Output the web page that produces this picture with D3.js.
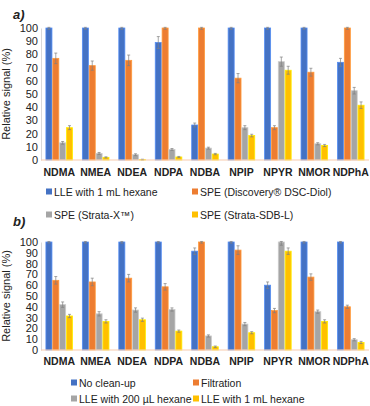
<!DOCTYPE html>
<html>
<head>
<meta charset="utf-8">
<script src="https://cdn.jsdelivr.net/npm/d3@7"></script>
<style>
  body { margin: 0; background: #fff; }
  text { font-family: "Liberation Sans", Arial, sans-serif; fill: #222; }
</style>
</head>
<body>
<div id="chart"></div>
<script>
var categories = ["NDMA", "NMEA", "NDEA", "NDPA", "NDBA", "NPIP", "NPYR", "NMOR", "NDPhA"];
var yTicks = [0, 10, 20, 30, 40, 50, 60, 70, 80, 90, 100];
var colors = ["#4472C4", "#ED7D31", "#A5A5A5", "#FFC000"];

// panel a
var seriesA = ["LLE with 1 mL hexane", "SPE (Discovery\u00AE DSC-Diol)", "SPE (Strata-X\u2122)", "SPE (Strata-SDB-L)"];
var lleA =  [100, 100, 100, 89, 26.5, 100, 100, 100, 74];
var diolA = [77, 71.5, 75.5, 100, 100, 62, 24.5, 66.5, 100];
var stxA =  [13, 5, 4, 8, 9, 24.5, 74.5, 12.3, 52.5];
var sdbA =  [24.5, 2, 0.3, 2.3, 4.5, 18.5, 68, 11, 41.5];
var errA = [
  [1, 1, 1, 4.5, 1.5, 1, 1, 1, 3],
  [4, 3.5, 4, 1, 1, 3.5, 1.5, 3, 1],
  [1, 0.7, 0.7, 0.7, 0.7, 1.5, 3.5, 0.8, 2.5],
  [1.5, 0.4, 0.3, 0.4, 0.5, 1, 3, 0.8, 2.5]
];

// panel b
var seriesB = ["No clean-up", "Filtration", "LLE with 200 \u00B5L hexane", "LLE with 1 mL hexane"];
var noneB = [100, 100, 100, 100, 91.5, 100, 60, 100, 100];
var filtB = [64.5, 63, 66.5, 58.5, 100, 92.5, 36.5, 67.5, 40];
var lle200B = [42, 33.5, 37, 37.5, 13, 24, 100, 35.5, 9.5];
var lle1B = [31.5, 26.5, 28, 17.5, 3, 16, 91.5, 26.5, 7];
var errB = [
  [1, 1, 1, 1, 3, 1, 3, 1, 1],
  [3.5, 3.5, 3.5, 3, 1, 4, 2, 3, 1.5],
  [2.5, 2, 2, 1.5, 1, 1.5, 3, 1.5, 1],
  [1.5, 1.5, 1.5, 1, 0.7, 1, 3, 1.5, 1]
];

var W = 370, H = 406;
var svg = d3.select("#chart").append("svg")
  .attr("width", W).attr("height", H);

var x = d3.scaleBand().domain(categories).range([41, 369])
  .paddingInner(0.27).paddingOuter(0.135);
var xs = d3.scaleBand().domain([0, 1, 2, 3]).range([0, x.bandwidth()]).paddingInner(0.12);

function panel(opt) {
  var y = d3.scaleLinear().domain([0, 100]).range([opt.y0, opt.y100]);
  var g = svg.append("g");

  g.append("text").attr("x", 13).attr("y", opt.titleY)
    .attr("font-size", 13).attr("font-weight", "bold").attr("font-style", "italic")
    .text(opt.title);

  // y axis
  var ya = g.append("g").attr("transform", "translate(41,0)")
    .call(d3.axisLeft(y).tickValues(yTicks).tickSize(0).tickPadding(3));
  ya.select(".domain").attr("stroke", "#d9d9d9");
  ya.selectAll("text").attr("font-size", 11).attr("fill", "#222")
    .attr("font-family", "Liberation Sans, Arial, sans-serif");

  g.append("text")
    .attr("transform", "translate(10," + ((opt.y0 + opt.y100) / 2) + ") rotate(-90)")
    .attr("text-anchor", "middle").attr("font-size", 11)
    .text("Relative signal (%)");

  // bars
  var data = opt.values;
  data.forEach(function(vals, s) {
    g.selectAll(".b" + s).data(categories).enter().append("rect")
      .attr("x", function(c) { return x(c) + xs(s); })
      .attr("y", function(c, i) { return y(vals[i]); })
      .attr("width", xs.bandwidth())
      .attr("height", function(c, i) { return opt.y0 - y(vals[i]); })
      .attr("fill", colors[s])
      .attr("stroke", d3.color(colors[s]).brighter(0.6))
      .attr("stroke-width", 0.8);

    g.selectAll(".e" + s).data(categories).enter().append("path")
      .attr("d", function(c, i) {
        var cx = x(c) + xs(s) + xs.bandwidth() / 2;
        var t = y(Math.min(vals[i] + opt.err[s][i], 100.5)), b = y(Math.max(vals[i] - opt.err[s][i], 0));
        return "M" + cx + "," + t + "V" + b + "M" + (cx - 1.5) + "," + t + "H" + (cx + 1.5) +
          "M" + (cx - 1.5) + "," + b + "H" + (cx + 1.5);
      })
      .attr("stroke", "#7f7f7f").attr("stroke-width", 0.7).attr("fill", "none");
  });

  // baseline
  g.append("line").attr("x1", 41).attr("x2", 369)
    .attr("y1", opt.y0).attr("y2", opt.y0)
    .attr("stroke", "#f8cbad").attr("stroke-width", 1);

  // categories
  var xa = g.append("g").attr("transform", "translate(0," + opt.y0 + ")")
    .call(d3.axisBottom(x).tickSize(0).tickPadding(opt.labelPad));
  xa.select(".domain").remove();
  xa.selectAll("text").attr("font-size", 10.5).attr("font-weight", "bold")
    .attr("fill", "#111").attr("font-family", "Liberation Sans, Arial, sans-serif");

  // legend
  opt.series.forEach(function(name, s) {
    var lx = opt.legX[s % 2], ly = opt.legY[Math.floor(s / 2)];
    g.append("rect").attr("x", lx).attr("y", ly - 3.5).attr("width", 6).attr("height", 6)
      .attr("fill", colors[s]);
    g.append("text").attr("x", lx + 8).attr("y", ly).attr("dy", "0.35em")
      .attr("font-size", 10.5).text(name);
  });
}

panel({
  title: "a)", titleY: 19, y0: 160, y100: 28, labelPad: 9,
  values: [lleA, diolA, stxA, sdbA], err: errA, series: seriesA,
  legX: [46, 192], legY: [192, 215]
});

panel({
  title: "b)", titleY: 226, y0: 350, y100: 242, labelPad: 8,
  values: [noneB, filtB, lle200B, lle1B], err: errB, series: seriesB,
  legX: [71, 193], legY: [383, 399]
});
</script>
</body>
</html>
